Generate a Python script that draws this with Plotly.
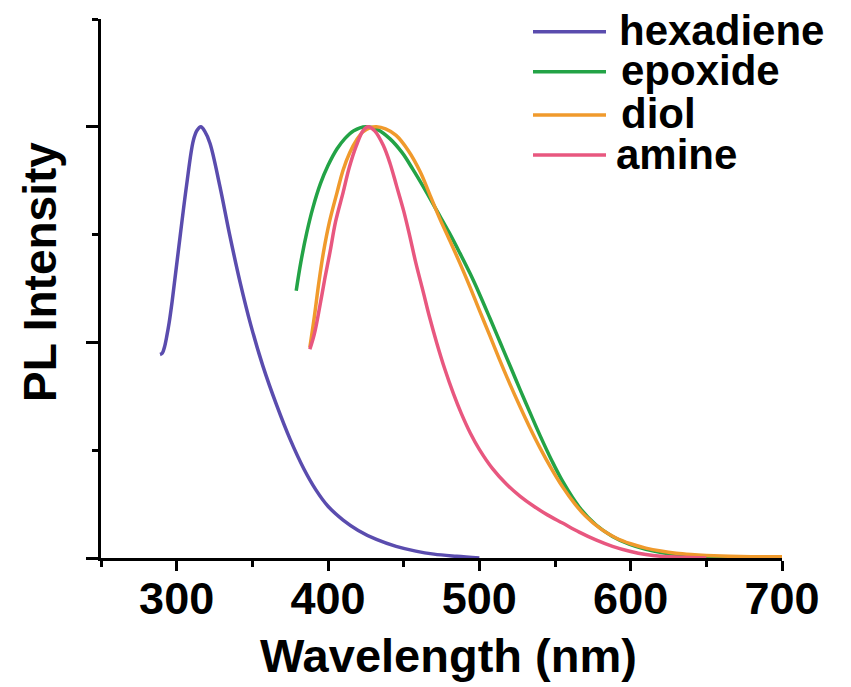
import plotly.graph_objects as go

# ---- data ----
names = ["hexadiene", "epoxide", "diol", "amine"]
colors = ["#5a4cae", "#23a346", "#f09a2c", "#e8577f"]

hexadiene_x = [289, 290.5, 292, 293.5, 295, 297, 301, 306.5, 311, 313.5, 316, 318.5, 322, 328.5,
               335, 342, 349, 357, 366, 375, 384, 392, 400, 410, 420, 432, 445, 458, 470, 485, 500]
hexadiene_y = [0.472, 0.475, 0.49, 0.515, 0.545, 0.595, 0.709, 0.863, 0.968, 0.992, 1.0, 0.99,
               0.962, 0.863, 0.75, 0.638, 0.54, 0.445, 0.355, 0.275, 0.207, 0.158, 0.12, 0.088,
               0.064, 0.043, 0.027, 0.016, 0.009, 0.004, 0.0]

epoxide_x = [379, 382, 386, 390, 395, 400, 406, 411, 417, 425, 433, 441, 449, 456, 464, 472, 480,
             487, 494, 500, 507, 514, 521, 527, 534, 540, 548, 555, 566, 577, 588, 599, 610, 621,
             635, 650, 670, 700]
epoxide_y = [0.62, 0.685, 0.755, 0.812, 0.868, 0.91, 0.949, 0.972, 0.991, 1.0, 0.993, 0.972, 0.94,
             0.902, 0.855, 0.805, 0.755, 0.708, 0.659, 0.613, 0.556, 0.498, 0.44, 0.39, 0.333,
             0.285, 0.225, 0.178, 0.118, 0.077, 0.05, 0.032, 0.02, 0.012, 0.006, 0.003, 0.001, 0.0]

diol_x = [388, 391, 394, 397, 401, 406, 410, 414.5, 419, 423, 428, 432, 438, 445, 453, 461, 467,
          474, 480, 487, 494, 500, 507, 513, 520, 527, 533, 540, 548, 555, 563, 570, 580, 590,
          600, 610, 620, 630, 640, 650, 665, 680, 700]
diol_y = [0.488, 0.56, 0.64, 0.709, 0.78, 0.848, 0.9, 0.941, 0.97, 0.988, 0.998, 1.0, 0.995, 0.98,
          0.945, 0.895, 0.845, 0.786, 0.74, 0.685, 0.627, 0.575, 0.515, 0.463, 0.405, 0.35, 0.305,
          0.256, 0.205, 0.165, 0.126, 0.098, 0.068, 0.047, 0.033, 0.023, 0.016, 0.011, 0.008,
          0.006, 0.004, 0.003, 0.003]

amine_x = [388, 391, 394.6, 398, 401.3, 405, 410, 414, 418.8, 423, 426.5, 431, 436.5, 441, 445.3,
           450, 454, 458, 463, 467, 472, 477, 483, 488, 494, 500, 509, 518, 527, 536, 545, 555,
           566, 577, 588, 600, 610, 620, 635, 650]
amine_y = [0.484, 0.52, 0.584, 0.65, 0.709, 0.78, 0.848, 0.905, 0.957, 0.99, 1.0, 0.99, 0.957,
           0.915, 0.863, 0.805, 0.747, 0.685, 0.616, 0.56, 0.497, 0.44, 0.38, 0.336, 0.29, 0.252,
           0.206, 0.171, 0.143, 0.12, 0.1, 0.081, 0.06, 0.042, 0.027, 0.015, 0.008, 0.004, 0.002,
           0.0]

x_major_ticks = [300, 400, 500, 600, 700]
x_tick_labels = ["300", "400", "500", "600", "700"]

series_x = [hexadiene_x, epoxide_x, diol_x, amine_x]
series_y = [hexadiene_y, epoxide_y, diol_y, amine_y]

FONT = "Liberation Sans, Arial, sans-serif"

fig = go.Figure()
for n, c, xs, ys in zip(names, colors, series_x, series_y):
    fig.add_trace(go.Scatter(x=xs, y=ys, mode="lines", name=n,
                             line=dict(color=c, width=3.5, shape="spline", smoothing=1.0),
                             showlegend=False))

# page body has an 8px margin; the figure is sized to fit the window
OFF = 8
W, H = 851 - OFF, 687 - OFF
PL, PR, PT, PB = 101, 782, 19, 558          # plot area on the page
L, T = PL - OFF, PT - OFF
R, B = W - (PR - OFF), H - (PB - OFF)
pw, ph = PR - PL, PB - PT

def px2paper(px, py):
    return (px - PL) / pw, (PB - py) / ph

fig.update_layout(
    width=W, height=H,
    margin=dict(l=L, r=R, t=T, b=B, pad=0),
    paper_bgcolor="white", plot_bgcolor="white",
    font=dict(family=FONT, color="black"),
    xaxis=dict(range=[250, 700], showline=True, linecolor="black", linewidth=2.5,
               ticks="outside", ticklen=10, tickwidth=2.5, tickcolor="black",
               tickvals=x_major_ticks, ticktext=x_tick_labels, ticklabelstandoff=-11,
               tickfont=dict(size=45, family=FONT, weight="bold", color="black"),
               showgrid=False, zeroline=False,
               minor=dict(tickvals=[250, 350, 450, 550, 650], ticks="outside", ticklen=6,
                          tickwidth=2.5, tickcolor="black", showgrid=False)),
    yaxis=dict(range=[0, 1.25], showline=True, linecolor="black", linewidth=2.5,
               ticks="outside", ticklen=12, tickwidth=2.5, tickcolor="black",
               tickvals=[0, 0.5, 1.0], showticklabels=False,
               showgrid=False, zeroline=False,
               minor=dict(tickvals=[0.25, 0.75, 1.25], ticks="outside", ticklen=6,
                          tickwidth=2.5, tickcolor="black", showgrid=False)),
)

# axis titles
ax, ay = px2paper(448, 655)
fig.add_annotation(x=ax, y=ay, xref="paper", yref="paper", text="Wavelength (nm)",
                   showarrow=False, xanchor="center", yanchor="middle",
                   font=dict(size=47, family=FONT, weight="bold", color="black"))
ax, ay = px2paper(40, 272)
fig.add_annotation(x=ax, y=ay, xref="paper", yref="paper", text="PL Intensity",
                   showarrow=False, xanchor="center", yanchor="middle", textangle=-90,
                   font=dict(size=46, family=FONT, weight="bold", color="black"))

# legend (drawn manually to match long sample lines)
leg_rows = [31.7, 71.7, 115, 155]
leg_text_x = [618, 620, 620, 615]
for n, c, ry, tx in zip(names, colors, leg_rows, leg_text_x):
    x0, y0 = px2paper(533, ry)
    x1, _ = px2paper(606, ry)
    fig.add_shape(type="line", xref="paper", yref="paper", x0=x0, x1=x1, y0=y0, y1=y0,
                  line=dict(color=c, width=3.5))
    tx_p, ty_p = px2paper(tx, ry - 1)
    fig.add_annotation(x=tx_p, y=ty_p, xref="paper", yref="paper", text=n, showarrow=False,
                       xanchor="left", yanchor="middle", borderpad=0,
                       font=dict(size=42, family=FONT, weight="bold", color="black"))

fig.write_html("out.html")
